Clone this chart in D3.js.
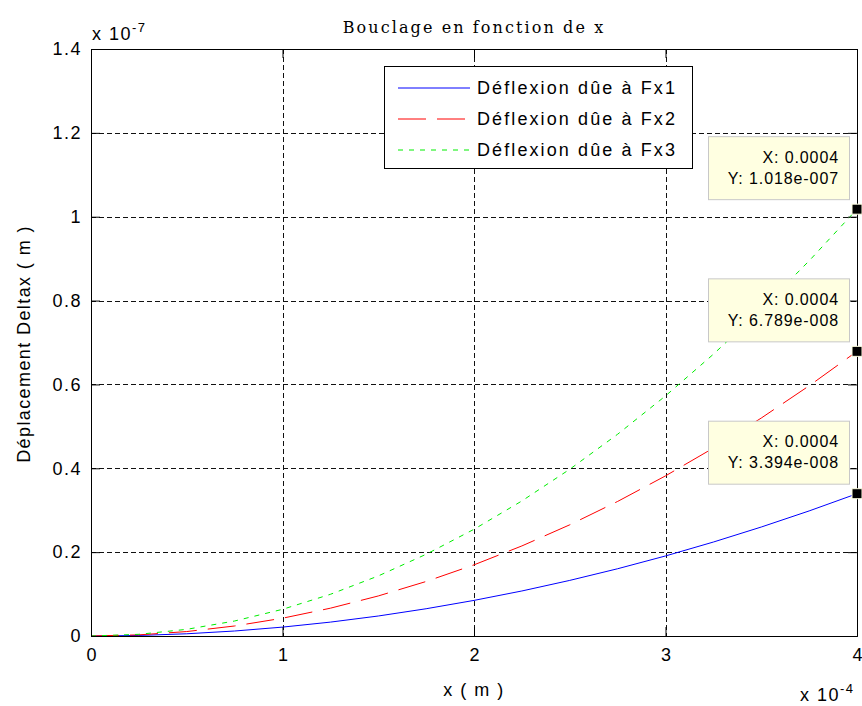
<!DOCTYPE html>
<html>
<head>
<meta charset="utf-8">
<script src="https://cdn.jsdelivr.net/npm/d3@7"></script>
<style>
  body { margin: 0; background: #fff; }
  text { font-family: "Liberation Sans", Arial, sans-serif; fill: #000; letter-spacing: 1.5px; }
</style>
</head>
<body>
<svg id="chart" width="862" height="706"></svg>
<script>
// x en unites de 1e-4 m, deflexion en unites de 1e-7 m
var xs = [0, 0.25, 0.5, 0.75, 1, 1.25, 1.5, 1.75, 2, 2.25, 2.5, 2.75, 3, 3.25, 3.5, 3.75, 4];
var fx1 = [0, 0.0013, 0.0053, 0.0119, 0.0212, 0.0331, 0.0477, 0.0650, 0.0849, 0.1074, 0.1326, 0.1604, 0.1909, 0.2241, 0.2599, 0.2983, 0.3394];
var fx2 = [0, 0.0027, 0.0106, 0.0239, 0.0424, 0.0663, 0.0955, 0.1300, 0.1697, 0.2148, 0.2652, 0.3209, 0.3819, 0.4482, 0.5198, 0.5967, 0.6789];
var fx3 = [0, 0.0040, 0.0159, 0.0358, 0.0636, 0.0994, 0.1432, 0.1949, 0.2545, 0.3221, 0.3977, 0.4812, 0.5726, 0.6720, 0.7794, 0.8947, 1.018];
var seriesNames = ["Déflexion dûe à Fx1", "Déflexion dûe à Fx2", "Déflexion dûe à Fx3"];
var xTicks = [0, 1, 2, 3, 4];
var yTicks = [0, 0.2, 0.4, 0.6, 0.8, 1, 1.2, 1.4];
var tipLabels = [
    ["X: 0.0004", "Y: 3.394e-008"],
    ["X: 0.0004", "Y: 6.789e-008"],
    ["X: 0.0004", "Y: 1.018e-007"]
];

var svg = d3.select("#chart");
var pLeft = 91, pRight = 857, pTop = 49, pBottom = 636;

var x = d3.scaleLinear().domain([0, 4]).range([pLeft, pRight]);
var y = d3.scaleLinear().domain([0, 1.4]).range([pBottom, pTop]);

var styles = [
    { color: "#0000ff", dash: null },
    { color: "#ff0000", dash: "28,11" },
    { color: "#00ee00", dash: "5,6" }
];

// grille
var grid = svg.append("g").attr("class", "grid");
grid.selectAll("line.gx")
    .data(xTicks.slice(1, -1))
    .enter().append("line")
    .attr("x1", function (d) { return Math.round(x(d)) + 0.5; })
    .attr("x2", function (d) { return Math.round(x(d)) + 0.5; })
    .attr("y1", pTop).attr("y2", pBottom);
grid.selectAll("line.gy")
    .data(yTicks.slice(1, -1))
    .enter().append("line")
    .attr("y1", function (d) { return Math.round(y(d)) + 0.5; })
    .attr("y2", function (d) { return Math.round(y(d)) + 0.5; })
    .attr("x1", pLeft).attr("x2", pRight);
grid.selectAll("line")
    .attr("stroke", "#111")
    .attr("stroke-width", 1)
    .attr("stroke-dasharray", "5,3");

// courbes
var line = d3.line()
    .x(function (d) { return x(d[0]); })
    .y(function (d) { return y(d[1]); });
[fx1, fx2, fx3].forEach(function (vals, i) {
    svg.append("path")
        .datum(xs.map(function (v, j) { return [v, vals[j]]; }))
        .attr("d", line)
        .attr("fill", "none")
        .attr("stroke", styles[i].color)
        .attr("stroke-width", 1)
        .attr("stroke-dasharray", styles[i].dash);
});

// axes (ticks vers l'interieur, boite complete)
var tl = 9;
var axB = svg.append("g").attr("transform", "translate(0," + pBottom + ")")
    .call(d3.axisBottom(x).tickValues(xTicks).tickSize(-tl).tickPadding(12).tickFormat(d3.format("d")));
var axT = svg.append("g").attr("transform", "translate(0," + pTop + ")")
    .call(d3.axisTop(x).tickValues(xTicks).tickSize(-tl).tickFormat(""));
var axL = svg.append("g").attr("transform", "translate(" + pLeft + ",0)")
    .call(d3.axisLeft(y).tickValues(yTicks).tickSize(-tl).tickPadding(9)
        .tickFormat(function (d) { return d === 0 ? "0" : (d === 1 ? "1" : d3.format(".1f")(d)); }));
var axR = svg.append("g").attr("transform", "translate(" + pRight + ",0)")
    .call(d3.axisRight(y).tickValues(yTicks).tickSize(-tl).tickFormat(""));
[axB, axT, axL, axR].forEach(function (a) {
    a.select(".domain").attr("stroke", "#000");
    a.selectAll(".tick line").attr("stroke", "#000");
    a.selectAll(".tick text")
        .attr("font-family", "Liberation Sans, Arial, sans-serif")
        .attr("font-size", 18)
        .attr("fill", "#000");
});
axB.selectAll(".tick text").attr("dx", "0.75px");

// exposants
var e7 = svg.append("text").attr("x", 92).attr("y", 40).attr("font-size", 18);
e7.append("tspan").text("x 10");
e7.append("tspan").attr("dy", -8).attr("font-size", 13).text("-7");
var e4 = svg.append("text").attr("x", 800).attr("y", 701).attr("font-size", 18);
e4.append("tspan").text("x 10");
e4.append("tspan").attr("dy", -8).attr("font-size", 13).text("-4");

// titres
svg.append("text")
    .attr("x", (pLeft + pRight) / 2).attr("y", 33)
    .attr("text-anchor", "middle")
    .attr("font-size", 16)
    .style("font-family", "DejaVu Serif, serif")
    .style("letter-spacing", "2.1px")
    .text("Bouclage en fonction de x");
svg.append("text")
    .attr("x", (pLeft + pRight) / 2).attr("y", 696)
    .attr("text-anchor", "middle")
    .attr("font-size", 18)
    .text("x ( m )");
svg.append("text")
    .attr("transform", "translate(30," + 344 + ") rotate(-90)")
    .attr("text-anchor", "middle")
    .attr("font-size", 18)
    .style("letter-spacing", "1.4px")
    .text("Déplacement Deltax ( m )");

// legende
var lg = svg.append("g").attr("transform", "translate(384,66)");
lg.append("rect").attr("x", 0.5).attr("y", 0.5).attr("width", 308).attr("height", 102)
    .attr("fill", "#fff").attr("stroke", "#000");
seriesNames.forEach(function (name, i) {
    var yy = 22 + i * 31;
    lg.append("line")
        .attr("x1", 14).attr("x2", 86).attr("y1", yy).attr("y2", yy)
        .attr("stroke", styles[i].color)
        .attr("stroke-dasharray", styles[i].dash);
    lg.append("text").attr("x", 93).attr("y", yy).attr("dy", "0.35em")
        .attr("font-size", 18).style("letter-spacing", "2.1px").text(name);
});

// info-bulles des points
var last = xs.length - 1;
[fx1, fx2, fx3].forEach(function (vals, i) {
    var mx = x(xs[last]), my = y(vals[last]);
    var bw = 141, bh = 63;
    var g = svg.append("g").attr("transform", "translate(" + (mx - 8 - bw) + "," + (my - 10 - bh) + ")");
    g.append("rect").attr("x", 0.5).attr("y", 0.5).attr("width", bw).attr("height", bh)
        .attr("fill", "#ffffe1").attr("stroke", "#c8c8c8");
    tipLabels[i].forEach(function (t, k) {
        g.append("text").attr("x", bw - 10).attr("y", 21 + k * 21).attr("dy", "0.35em")
            .attr("text-anchor", "end").attr("font-size", 16)
            .style("letter-spacing", "0.9px").text(t);
    });
    svg.append("rect")
        .attr("x", mx - 5).attr("y", my - 5).attr("width", 10).attr("height", 10)
        .attr("fill", "#000").attr("stroke", "#ffffe1").attr("stroke-width", 1);
});
</script>
</body>
</html>
